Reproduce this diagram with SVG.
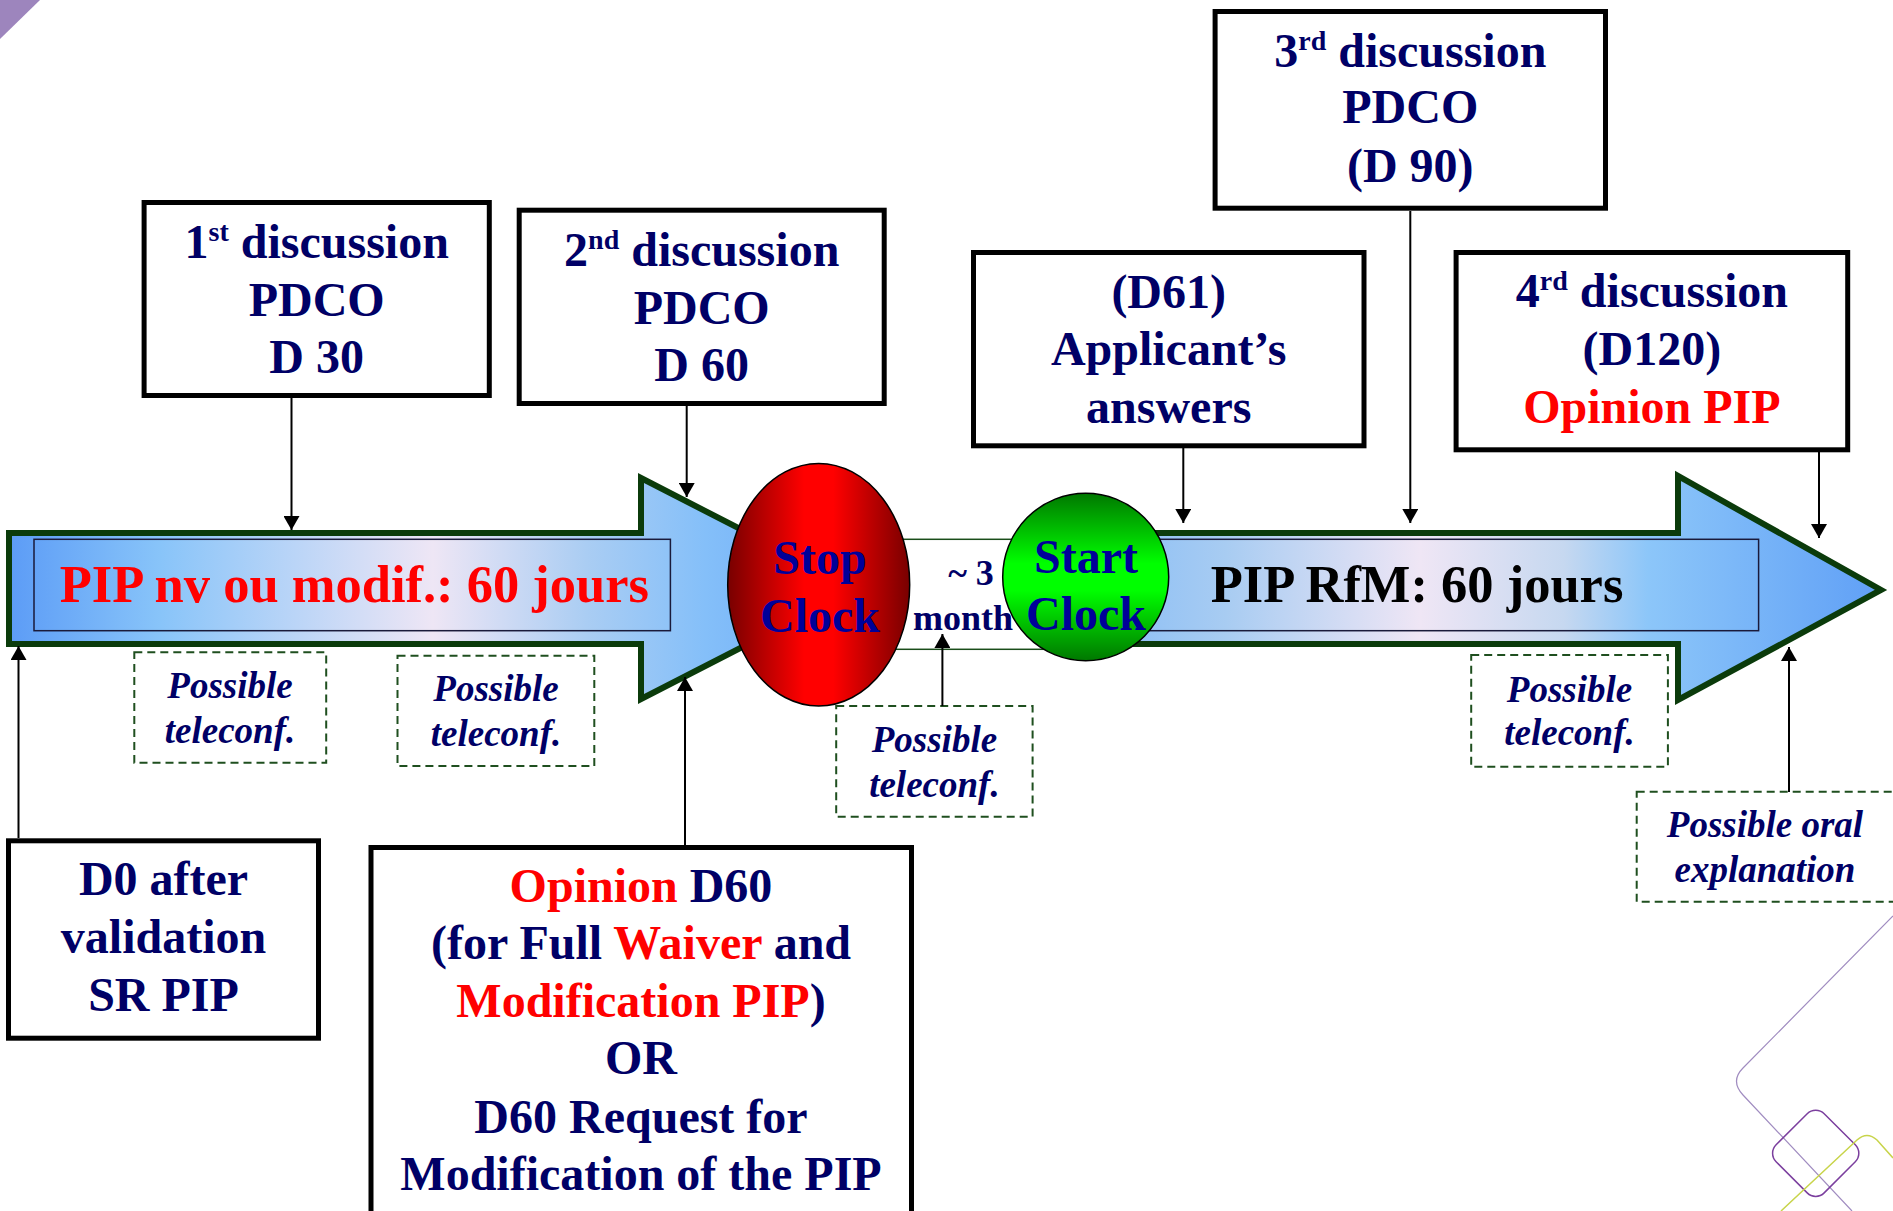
<svg xmlns="http://www.w3.org/2000/svg" width="1893" height="1211" viewBox="0 0 1893 1211">
<defs>
<linearGradient id="gL" gradientUnits="userSpaceOnUse" x1="6" y1="0" x2="860" y2="0">
<stop offset="0" stop-color="#5b9bf6"/><stop offset="0.18" stop-color="#88c4f9"/><stop offset="0.5" stop-color="#eee6f5"/><stop offset="0.68" stop-color="#aacdf3"/><stop offset="0.82" stop-color="#84bff9"/><stop offset="1" stop-color="#68a6f7"/>
</linearGradient>
<linearGradient id="gR" gradientUnits="userSpaceOnUse" x1="1040" y1="0" x2="1885" y2="0">
<stop offset="0" stop-color="#7ab6f8"/><stop offset="0.22" stop-color="#a8ccf2"/><stop offset="0.45" stop-color="#efe6f5"/><stop offset="0.62" stop-color="#c6d8f0"/><stop offset="0.72" stop-color="#8cc6f9"/><stop offset="1" stop-color="#5f9ff6"/>
</linearGradient>
<linearGradient id="gRed" x1="0" y1="0" x2="1" y2="0">
<stop offset="0" stop-color="#780000"/><stop offset="0.42" stop-color="#ff0000"/><stop offset="0.58" stop-color="#ff0000"/><stop offset="1" stop-color="#780000"/>
</linearGradient>
<linearGradient id="gGreen" x1="0" y1="0" x2="0" y2="1">
<stop offset="0" stop-color="#007800"/><stop offset="0.42" stop-color="#00ff00"/><stop offset="0.58" stop-color="#00ff00"/><stop offset="1" stop-color="#007800"/>
</linearGradient>
<marker id="ah" markerUnits="userSpaceOnUse" markerWidth="16" markerHeight="16" refX="14" refY="8" orient="auto">
<path d="M0,0 L14,8 L0,16 z" fill="#000"/>
</marker>
<style>
.box{fill:#fff;stroke:#000;stroke-width:5}
.t{font-family:"Liberation Serif","Times New Roman",serif;font-weight:bold;font-size:48px;fill:#000066;text-anchor:middle}
.sup{font-size:28px}
.red{fill:#ff0000}
.dash{fill:none;stroke:#1f4f1f;stroke-width:2;stroke-dasharray:8 5}
.ti{font-family:"Liberation Serif","Times New Roman",serif;font-weight:bold;font-style:italic;font-size:37px;fill:#000066;text-anchor:middle}
.con{stroke:#000;stroke-width:2;fill:none;marker-end:url(#ah)}
.arrow{stroke:#0b3b0b;stroke-width:6;stroke-linejoin:miter}
.inner{stroke:#1a1a3a;stroke-width:1.5}
.big{font-family:"Liberation Serif","Times New Roman",serif;font-weight:bold;font-size:52.5px;text-anchor:middle}
</style>
</defs>
<rect width="1893" height="1211" fill="#fff"/>
<polygon points="0,0 40,0 0,39" fill="#9d85bd"/>

<g id="arrow-left">
<polygon class="arrow" fill="url(#gL)" points="9,533 641,533 641,478 856,588.5 641,699 641,644 9,644"/>
<rect class="inner" fill="url(#gL)" x="34" y="539.3" width="636.4" height="91.4"/>
<text class="big" x="354.4" y="601.7" fill="#ff0000">PIP nv ou modif.: 60 jours</text>
</g>
<g id="arrow-right">
<polygon class="arrow" fill="url(#gR)" points="1090,533 1678,533 1678,476 1881,590 1678,700 1678,644 1090,644"/>
<rect class="inner" fill="url(#gR)" x="1090" y="539.3" width="668.6" height="91.4"/>
<text class="big" x="1417" y="601.7" fill="#000">PIP RfM: 60 jours</text>
</g>
<g id="gap">
<rect x="880" y="539.3" width="165" height="110" fill="#fff" stroke="#1a4d1a" stroke-width="1.5"/>
<text x="971" y="585" style="font-family:'Liberation Serif',serif;font-weight:bold;font-size:36px;fill:#000066;text-anchor:middle">~ 3</text>
<text x="913" y="630" style="font-family:'Liberation Serif',serif;font-weight:bold;font-size:36px;fill:#000066">month</text>
</g>
<g id="stop-clock">
<ellipse cx="818.7" cy="584.7" rx="91" ry="121.3" fill="url(#gRed)" stroke="#000" stroke-width="1.5"/>
<text class="t" x="820" y="574" style="fill:#000099">Stop</text>
<text class="t" x="820" y="631.7" style="fill:#000099">Clock</text>
</g>
<g id="start-clock">
<ellipse cx="1085.7" cy="577" rx="83" ry="83.7" fill="url(#gGreen)" stroke="#000" stroke-width="1.5"/>
<text class="t" x="1086" y="572.7" style="fill:#000099">Start</text>
<text class="t" x="1086" y="630" style="fill:#000099">Clock</text>
</g>

<g id="box-d30">
<rect class="box" x="144.1" y="202.5" width="345.2" height="193"/>
<text class="t" x="316.7" y="258">1<tspan class="sup" dy="-17">st</tspan><tspan dy="17"> discussion</tspan></text>
<text class="t" x="316.7" y="316">PDCO</text>
<text class="t" x="316.7" y="373">D 30</text>
</g>
<g id="box-d60">
<rect class="box" x="519.2" y="210.2" width="365" height="193.3"/>
<text class="t" x="701.7" y="266">2<tspan class="sup" dy="-17">nd</tspan><tspan dy="17"> discussion</tspan></text>
<text class="t" x="701.7" y="324">PDCO</text>
<text class="t" x="701.7" y="381">D 60</text>
</g>
<g id="box-d90">
<rect class="box" x="1215.1" y="11.5" width="390.4" height="196.7"/>
<text class="t" x="1410.3" y="66.7">3<tspan class="sup" dy="-17">rd</tspan><tspan dy="17"> discussion</tspan></text>
<text class="t" x="1410.3" y="123.3">PDCO</text>
<text class="t" x="1410.3" y="181.7">(D 90)</text>
</g>
<g id="box-d61">
<rect class="box" x="973.5" y="252.5" width="390.5" height="193.3"/>
<text class="t" x="1168.7" y="308.3">(D61)</text>
<text class="t" x="1168.7" y="365">Applicant’s</text>
<text class="t" x="1168.7" y="423.3">answers</text>
</g>
<g id="box-d120">
<rect class="box" x="1456.1" y="252.5" width="391.6" height="197.3"/>
<text class="t" x="1651.9" y="306.7">4<tspan class="sup" dy="-17">rd</tspan><tspan dy="17"> discussion</tspan></text>
<text class="t" x="1651.9" y="365">(D120)</text>
<text class="t red" x="1651.9" y="423.3">Opinion PIP</text>
</g>
<g id="box-d0">
<rect class="box" x="8.5" y="840.8" width="310" height="197.4"/>
<text class="t" x="163.5" y="895">D0 after</text>
<text class="t" x="163.5" y="953.3">validation</text>
<text class="t" x="163.5" y="1011">SR PIP</text>
</g>
<g id="box-opinion-d60">
<rect class="box" x="371" y="847.5" width="540.5" height="400"/>
<text class="t" x="641" y="901.7"><tspan class="red">Opinion</tspan> D60</text>
<text class="t" x="641" y="959.3">(for Full <tspan class="red">Waiver</tspan> and</text>
<text class="t" x="641" y="1017.3"><tspan class="red">Modification PIP</tspan>)</text>
<text class="t" x="641" y="1074">OR</text>
<text class="t" x="641" y="1132.7">D60 Request for</text>
<text class="t" x="641" y="1190">Modification of the PIP</text>
</g>

<g id="tele-1">
<rect class="dash" x="134.3" y="652.3" width="191.9" height="110.4"/>
<text class="ti" x="230" y="698.3">Possible</text>
<text class="ti" x="230" y="743.3">teleconf.</text>
</g>
<g id="tele-2">
<rect class="dash" x="397.5" y="655.7" width="196.8" height="110.3"/>
<text class="ti" x="496" y="700.7">Possible</text>
<text class="ti" x="496" y="746">teleconf.</text>
</g>
<g id="tele-3">
<rect class="dash" x="836.2" y="706" width="196.4" height="110.7"/>
<text class="ti" x="934.4" y="751.7">Possible</text>
<text class="ti" x="934.4" y="796.7">teleconf.</text>
</g>
<g id="tele-4">
<rect class="dash" x="1471.2" y="655" width="196.7" height="111.7"/>
<text class="ti" x="1569.5" y="701.7">Possible</text>
<text class="ti" x="1569.5" y="745">teleconf.</text>
</g>
<g id="oral">
<rect class="dash" x="1636.7" y="791.7" width="270" height="110"/>
<text class="ti" x="1765" y="836.7">Possible oral</text>
<text class="ti" x="1765" y="881.7">explanation</text>
</g>

<g id="connectors">
<line class="con" x1="291.5" y1="398" x2="291.5" y2="530"/>
<line class="con" x1="686.7" y1="406" x2="686.7" y2="497"/>
<line class="con" x1="1183.3" y1="448" x2="1183.3" y2="523"/>
<line class="con" x1="1410.3" y1="211" x2="1410.3" y2="523"/>
<line class="con" x1="1819" y1="452" x2="1819" y2="538"/>
<line class="con" x1="18.5" y1="838" x2="18.5" y2="646"/>
<line class="con" x1="685" y1="845" x2="685" y2="677"/>
<line class="con" x1="942.4" y1="706" x2="942.4" y2="634"/>
<line class="con" x1="1789" y1="792" x2="1789" y2="647"/>
</g>

<g id="decoration" fill="none">
<path d="M1893,916 L1743,1068 Q1730,1081 1743,1095 L1852,1211" stroke="#a08cc0" stroke-width="1.2"/>
<rect x="1781.7" y="1119.3" width="68" height="68" rx="12" transform="rotate(45 1815.7 1153.3)" stroke="#7b3f9e" stroke-width="1.5"/>
<path d="M1781,1211 L1857,1140 Q1867,1131 1877,1140 L1893,1158" stroke="#c8d44a" stroke-width="1.5"/>
</g>
</svg>
